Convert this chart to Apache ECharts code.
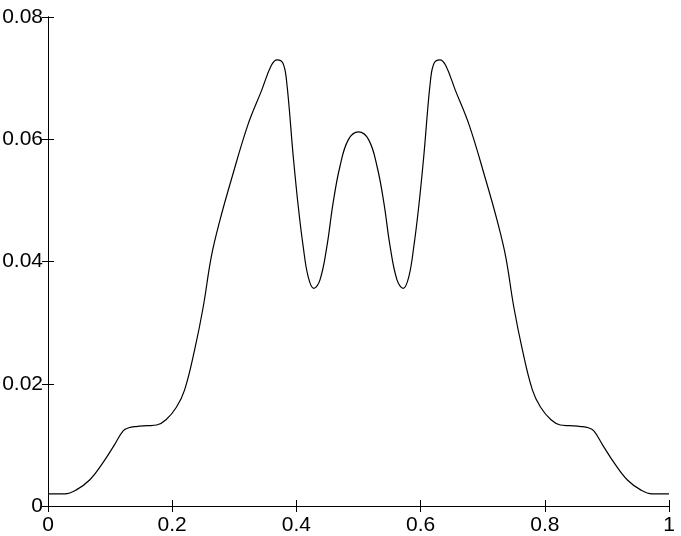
<!DOCTYPE html>
<html>
<head>
<meta charset="utf-8">
<style>
  html, body { margin: 0; padding: 0; background: #fff; }
  #chart { width: 681px; height: 536px; }
</style>
<script src="https://cdn.jsdelivr.net/npm/echarts@6/dist/echarts.min.js"></script>
</head>
<body>
<div id="chart"></div>
<script>
// curve (x in [0,1], y value)
var xValues = [
  0, 0.027, 0.045, 0.067, 0.088, 0.107, 0.121, 0.13, 0.142, 0.16, 0.175, 0.19,
  0.207, 0.22, 0.236, 0.25, 0.263, 0.277, 0.2955, 0.322, 0.344, 0.3597, 0.369,
  0.378, 0.384, 0.395, 0.403, 0.411, 0.419, 0.428, 0.438, 0.449, 0.459, 0.47,
  0.4835, 0.5,
  0.5165, 0.53, 0.541, 0.551, 0.562, 0.572, 0.581, 0.589, 0.597, 0.605, 0.616,
  0.622, 0.631, 0.6403, 0.656, 0.678, 0.7045, 0.723, 0.737, 0.75, 0.764, 0.78,
  0.793, 0.81, 0.825, 0.84, 0.858, 0.87, 0.879, 0.893, 0.912, 0.933, 0.955,
  0.973, 1
];
var yValues = [
  0.002, 0.002, 0.0026, 0.00425, 0.007, 0.01, 0.0123, 0.0128, 0.013, 0.01314, 0.01325, 0.0141,
  0.0162, 0.019, 0.0255, 0.0326, 0.0408, 0.0468, 0.0535, 0.0624, 0.068, 0.0721, 0.073,
  0.0725, 0.0697, 0.0571, 0.049, 0.0424, 0.0375, 0.0356, 0.037, 0.0424, 0.0495, 0.0555,
  0.0599, 0.0612,
  0.0599, 0.0555, 0.0495, 0.0424, 0.037, 0.0356, 0.0375, 0.0424, 0.049, 0.0571, 0.0697,
  0.0725, 0.073, 0.0721, 0.068, 0.0624, 0.0535, 0.0468, 0.0408, 0.0326, 0.0255, 0.019,
  0.0162, 0.0141, 0.01325, 0.01314, 0.013, 0.0128, 0.0123, 0.01, 0.007, 0.00425, 0.0026,
  0.002, 0.002
];
var xTicks = [0, 0.2, 0.4, 0.6, 0.8, 1];
var yTicks = [0, 0.02, 0.04, 0.06, 0.08];

var points = xValues.map(function (x, i) { return [x, yValues[i]]; });

var labelFont = {
  color: "#000",
  fontFamily: "Liberation Sans",
  fontSize: 21
};

function boxAxis(extra) {
  var base = {
    type: "value",
    splitLine: { show: false },
    axisLine: { show: true, lineStyle: { color: "#000", width: 1 } },
    axisTick: { show: true, inside: true, length: 6, lineStyle: { color: "#000" } }
  };
  return Object.assign(base, extra);
}

var chart = echarts.init(document.getElementById("chart"));
chart.setOption({
  animation: false,
  backgroundColor: "#fff",
  grid: {
    left: 48, right: 12, top: 17, bottom: 30,
    containLabel: false,
    outerBoundsMode: "none"
  },
  xAxis: [
    boxAxis({
      position: "bottom",
      min: xTicks[0],
      max: xTicks[xTicks.length - 1],
      interval: 0.2,
      axisLabel: Object.assign({
        margin: 9,
        formatter: function (v) { return String(+v.toFixed(1)); }
      }, labelFont)
    }),
    boxAxis({
      position: "top",
      min: xTicks[0],
      max: xTicks[xTicks.length - 1],
      interval: 0.2,
      axisLabel: { show: false }
    })
  ],
  yAxis: [
    boxAxis({
      position: "left",
      min: yTicks[0],
      max: yTicks[yTicks.length - 1],
      interval: 0.02,
      axisLabel: Object.assign({
        margin: 5,
        formatter: function (v) { return String(+v.toFixed(2)); }
      }, labelFont)
    }),
    boxAxis({
      position: "right",
      min: yTicks[0],
      max: yTicks[yTicks.length - 1],
      interval: 0.02,
      axisLabel: { show: false }
    })
  ],
  series: [
    {
      type: "line",
      xAxisIndex: 0,
      yAxisIndex: 0,
      data: points,
      smooth: 0.4,
      showSymbol: false,
      lineStyle: { color: "#000", width: 1.2 }
    }
  ]
});
</script>
</body>
</html>
